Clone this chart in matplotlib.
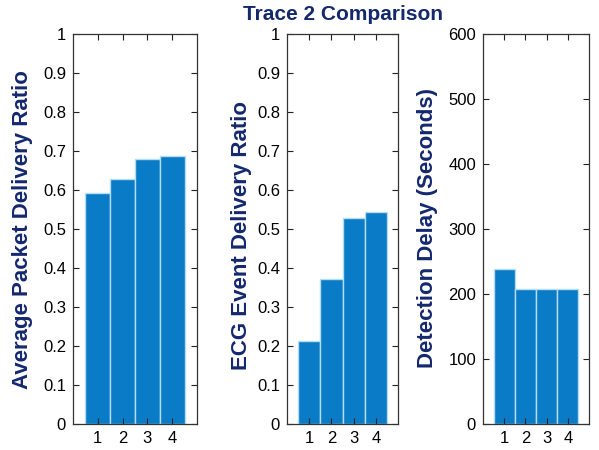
import matplotlib
matplotlib.use("Agg")
import matplotlib.pyplot as plt

categories = [1, 2, 3, 4]
pdr = [0.593, 0.628, 0.680, 0.687]
ecg = [0.213, 0.373, 0.529, 0.544]
delay = [238, 208, 208, 208]

ylabels = ["Average Packet Delivery Ratio", "ECG Event Delivery Ratio", "Detection Delay (Seconds)"]
title = "Trace 2 Comparison"

plt.rcParams['font.family'] = ['Liberation Sans', 'DejaVu Sans']
W, H = 599, 450
fig = plt.figure(figsize=(W/100, H/100), dpi=100)
navy = '#14286e'
bar_color = '#0a7bc6'

# axes boxes in pixel coords (left, right, top, bottom)
boxes = [(73, 197, 34, 424), (287, 398, 34, 424), (483, 589, 34, 424)]
data = [pdr, ecg, delay]
ylims = [(0, 1), (0, 1), (0, 600)]
yticks = [[i/10 for i in range(11)], [i/10 for i in range(11)], list(range(0, 601, 100))]
ytl = [["0"] + [f"{i/10:.1f}" for i in range(1, 10)] + ["1"]] * 2 + [[str(v) for v in range(0, 601, 100)]]
label_x = [23, 242, 428]
label_y = [230, 236, 228]

for i, (l, r, t, b) in enumerate(boxes):
    ax = fig.add_axes([l/W, 1 - b/H, (r-l)/W, (b-t)/H])
    ax.bar(categories, data[i], width=1.0, color=bar_color, edgecolor='#b5dcf2', linewidth=1.0)
    ax.set_xlim(0, 5)
    ax.set_ylim(*ylims[i])
    ax.set_xticks(categories)
    ax.set_yticks(yticks[i])
    ax.set_yticklabels(ytl[i])
    ax.tick_params(direction='in', top=True, right=True, length=4, width=0.8,
                   labelsize=12, colors='#222222', labelcolor='black', pad=5)
    for s in ax.spines.values():
        s.set_color('#333333')
        s.set_linewidth(0.9)
    fig.text(label_x[i]/W, 1 - label_y[i]/H, ylabels[i], rotation=90, ha='center', va='center',
             fontsize=16, fontweight='bold', color=navy)

fig.text(343/W, 1 - 15/H, title, ha='center', va='center', fontsize=15, fontweight='bold', color=navy)

fig.savefig("out.png", dpi=100)
